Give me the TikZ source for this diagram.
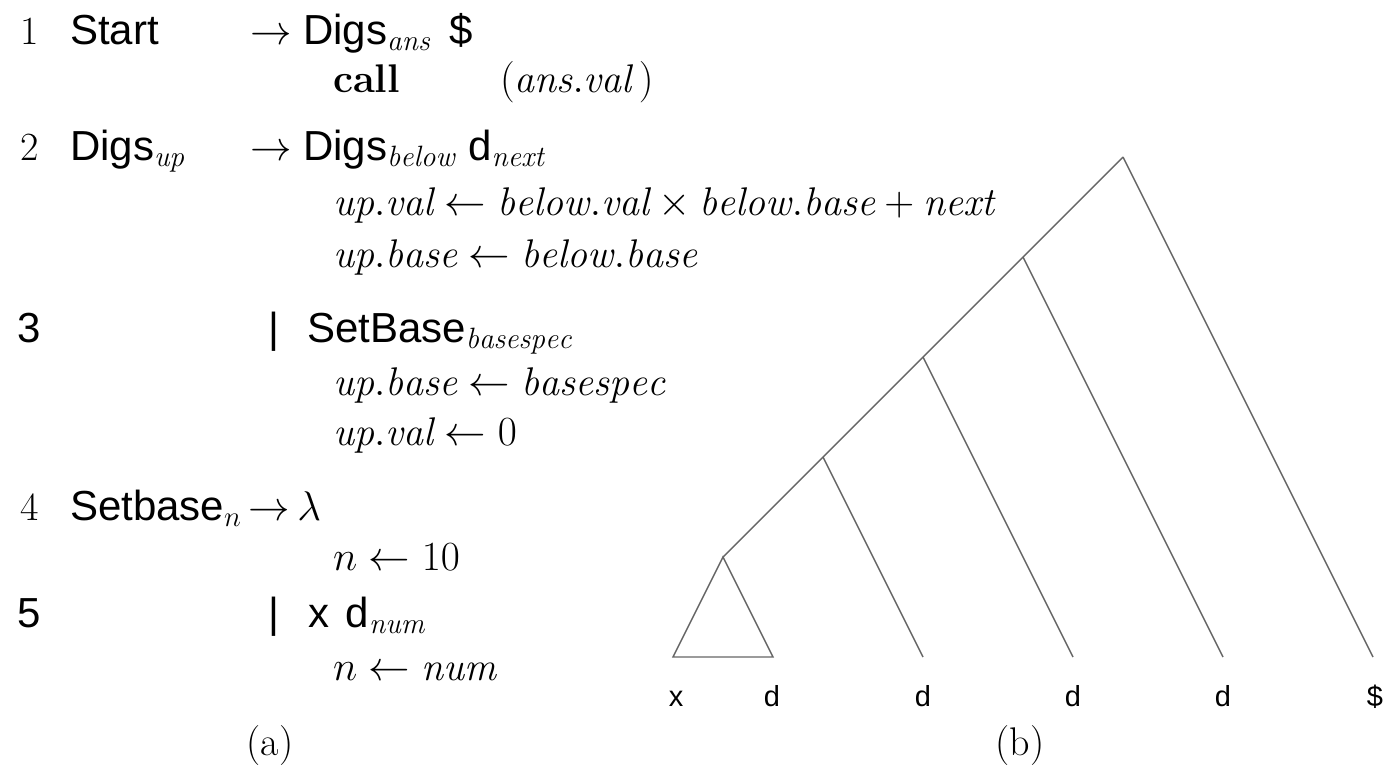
\documentclass[tikz,border=0pt]{standalone}
\usepackage{fontspec}
\setsansfont{Liberation Sans}
\usetikzlibrary{positioning}

\begin{document}
\begin{tikzpicture}[
    x=0.5pt, y=-0.5pt,
    every node/.style={inner sep=0pt, outer sep=0pt, anchor=base west},
    rulenum/.style={font=\fontsize{20}{24}\selectfont},
    gsym/.style={font=\fontsize{21}{25}\sffamily},
    action/.style={font=\fontsize{20}{24}\selectfont},
    caption/.style={anchor=base, font=\fontsize{20}{24}\selectfont},
    leaf/.style={anchor=base, font=\fontsize{14.5}{17}\sffamily},
    edge/.style={draw=black!60, line width=0.7pt}
]
\useasboundingbox (0,0) rectangle (1393,773);

% (a) attribute grammar
\node[rulenum] (num1) at (20,44) {1};
\node[gsym] (lhs1) at (70,44) {Start};
\node[gsym] (rhs1) at (250,44) {$\rightarrow$ Digs$_{\mathit{ans}}$\hspace{0.45em}\$};
\node[action] (call1) at (333,92) {\textbf{call}};
\node[action] (arg1) at (500,92) {$(\mathit{ans.val}\,)$};

\node[rulenum] (num2) at (20,160) {2};
\node[gsym] (lhs2) at (70,160) {Digs$_{\mathit{up}}$};
\node[gsym] (rhs2) at (250,160) {$\rightarrow$ Digs$_{\mathit{below}}$\hspace{0.3em}d$_{\mathit{next}}$};
\node[action] (act2a) at (333,215) {$\mathit{up.val} \leftarrow \mathit{below.val} \times \mathit{below.base} + \mathit{next}$};
\node[action] (act2b) at (333,267) {$\mathit{up.base} \leftarrow \mathit{below.base}$};

\node[gsym] (num3) at (18,342) {3};
\node[gsym] (bar3) at (268,342) {|};
\node[gsym] (rhs3) at (307,342) {SetBase$_{\mathit{basespec}}$};
\node[action] (act3a) at (333,395) {$\mathit{up.base} \leftarrow \mathit{basespec}$};
\node[action] (act3b) at (333,445) {$\mathit{up.val} \leftarrow 0$};

\node[rulenum] (num4) at (20,520) {4};
\node[gsym] (lhs4) at (70,520) {Setbase$_{n}$\,$\rightarrow$\,$\lambda$};
\node[action] (act4) at (333,570) {$n \leftarrow 10$};

\node[gsym] (num5) at (18,627) {5};
\node[gsym] (bar5) at (268,627) {|};
\node[gsym] (rhs5) at (308,627) {x\hspace{0.4em}d$_{\mathit{num}}$};
\node[action] (act5) at (333,680) {$n \leftarrow \mathit{num}$};

\node[caption] (capa) at (270,755) {(a)};

% (b) parse tree
\coordinate (root) at (1123,157);
\coordinate (sp1) at (1023,257);
\coordinate (sp2) at (923,357);
\coordinate (sp3) at (823,457);
\coordinate (sp4) at (723,557);
\coordinate (lfx) at (673,657);
\coordinate (lf1) at (773,657);
\coordinate (lf2) at (923,657);
\coordinate (lf3) at (1073,657);
\coordinate (lf4) at (1223,657);
\coordinate (lfs) at (1373,657);

\draw[edge] (root) -- (sp4);
\draw[edge] (sp4) -- (lfx) -- (lf1) -- cycle;
\draw[edge] (sp3) -- (lf2);
\draw[edge] (sp2) -- (lf3);
\draw[edge] (sp1) -- (lf4);
\draw[edge] (root) -- (lfs);

\node[leaf] (tx) at (676,706) {x};
\node[leaf] (td1) at (772,706) {d};
\node[leaf] (td2) at (923,706) {d};
\node[leaf] (td3) at (1073,706) {d};
\node[leaf] (td4) at (1223,706) {d};
\node[leaf] (tds) at (1375,706) {\$};

\node[caption] (capb) at (1020,755) {(b)};
\end{tikzpicture}
\end{document}
